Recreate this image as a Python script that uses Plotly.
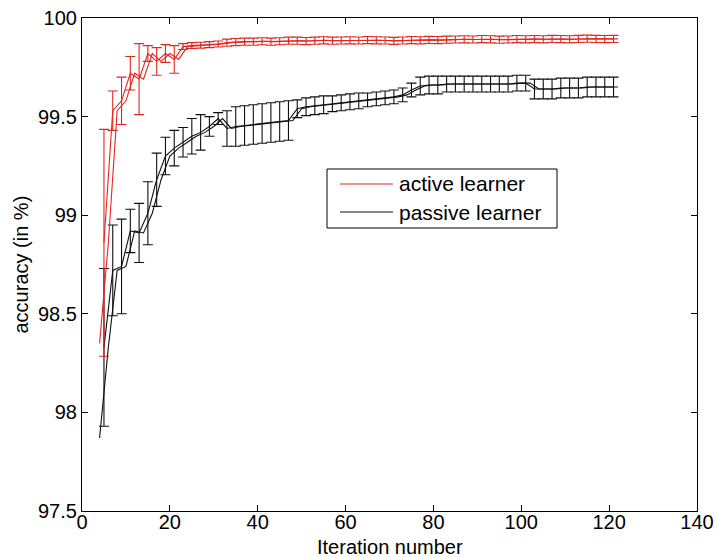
import plotly.graph_objects as go

# Iterations at which error bars are drawn
iterations = list(range(5, 122, 2))
# Second (offset) trace iterations
iterations_alt = list(range(4, 123, 2))

active_mean = [98.86, 99.53, 99.58, 99.72, 99.69, 99.82, 99.78, 99.82, 99.79,
               99.855, 99.86, 99.862, 99.865, 99.868, 99.875, 99.878, 99.88, 99.88,
               99.882, 99.88, 99.882, 99.885, 99.885, 99.883, 99.885, 99.887, 99.885,
               99.886, 99.887, 99.886, 99.888, 99.887, 99.886, 99.884, 99.886, 99.888,
               99.887, 99.889, 99.888, 99.89, 99.891, 99.892, 99.891, 99.893, 99.892,
               99.89, 99.891, 99.893, 99.892, 99.893, 99.892, 99.894, 99.893, 99.892,
               99.894, 99.895, 99.894, 99.893, 99.894]
active_err = [0.575, 0.10, 0.12, 0.085, 0.18, 0.04, 0.07, 0.045, 0.07,
              0.015, 0.015, 0.015, 0.015, 0.015, 0.018, 0.018, 0.018, 0.018,
              0.018, 0.018, 0.018, 0.018, 0.018, 0.018, 0.018, 0.018, 0.018,
              0.018, 0.018, 0.018, 0.018, 0.018, 0.018, 0.018, 0.018, 0.018,
              0.018, 0.018, 0.018, 0.018, 0.018, 0.018, 0.018, 0.018, 0.018,
              0.018, 0.018, 0.018, 0.018, 0.018, 0.018, 0.018, 0.018, 0.018,
              0.018, 0.018, 0.018, 0.018, 0.018]
active_start = 98.35

passive_mean = [98.33, 98.72, 98.74, 98.92, 98.91, 99.01, 99.18, 99.30, 99.34,
                99.37, 99.40, 99.42, 99.45, 99.49, 99.44, 99.45, 99.455, 99.46,
                99.465, 99.47, 99.475, 99.48, 99.54, 99.55, 99.555, 99.56, 99.565,
                99.57, 99.575, 99.58, 99.585, 99.59, 99.595, 99.60, 99.61, 99.635,
                99.655, 99.66, 99.66, 99.665, 99.665, 99.665, 99.665, 99.665, 99.665,
                99.665, 99.665, 99.67, 99.67, 99.64, 99.64, 99.64, 99.645, 99.645,
                99.645, 99.65, 99.65, 99.65, 99.65]
passive_err = [0.40, 0.23, 0.24, 0.11, 0.15, 0.16, 0.135, 0.095, 0.09,
               0.075, 0.09, 0.09, 0.05, 0.03, 0.09, 0.10, 0.10, 0.10,
               0.10, 0.10, 0.10, 0.10, 0.045, 0.045, 0.045, 0.045, 0.04,
               0.04, 0.04, 0.04, 0.035, 0.035, 0.035, 0.035, 0.035, 0.035,
               0.045, 0.045, 0.045, 0.04, 0.04, 0.04, 0.04, 0.04, 0.04,
               0.04, 0.04, 0.04, 0.04, 0.05, 0.05, 0.05, 0.05, 0.05,
               0.05, 0.05, 0.05, 0.05, 0.05]
passive_start = 97.87

series_names = ["active learner", "passive learner"]
x_title = "Iteration number"
y_title = "accuracy (in %)"

active_alt = [active_start] + active_mean
passive_alt = [passive_start] + passive_mean

RED = "rgb(228,38,32)"
BLACK = "rgb(15,15,15)"
FONT = "Liberation Sans, Arial, sans-serif"
FS = 20

fig = go.Figure()

fig.add_trace(go.Scatter(x=iterations_alt, y=passive_alt, mode="lines",
                         line=dict(color=BLACK, width=1.1), showlegend=False,
                         hoverinfo="skip"))
fig.add_trace(go.Scatter(x=iterations, y=passive_mean, mode="lines",
                         name=series_names[1], showlegend=False,
                         line=dict(color=BLACK, width=1.1),
                         error_y=dict(type="data", array=passive_err, visible=True,
                                      color=BLACK, thickness=1.1, width=5)))
fig.add_trace(go.Scatter(x=iterations_alt, y=active_alt, mode="lines",
                         line=dict(color=RED, width=1.1), showlegend=False,
                         hoverinfo="skip"))
fig.add_trace(go.Scatter(x=iterations, y=active_mean, mode="lines",
                         name=series_names[0], showlegend=False,
                         line=dict(color=RED, width=1.1),
                         error_y=dict(type="data", array=active_err, visible=True,
                                      color=RED, thickness=1.1, width=5)))

axis_common = dict(showline=True, linecolor="black", linewidth=1.2, mirror="ticks",
                   ticks="inside", ticklen=6, tickcolor="black", tickwidth=1,
                   showgrid=False, zeroline=False, automargin=False,
                   tickfont=dict(family=FONT, size=FS, color="black"))

fig.update_xaxes(range=[0, 140], dtick=20, tick0=0, ticklabelstandoff=-7,
                 **axis_common)
fig.update_yaxes(range=[97.5, 100], dtick=0.5, tick0=97.5, ticklabelstandoff=0,
                 **axis_common)

# Plot-area geometry used to place the legend and axis titles
L, T, R, B = 82, 18, 20, 46
W, H = 717 - L - R, 557 - T - B
def px(x):
    return (x - L) / W
def py(y):
    return 1 - (y - T) / H

shapes = [dict(type="rect", xref="paper", yref="paper",
               x0=px(327), x1=px(557), y0=py(228), y1=py(169),
               line=dict(color="black", width=1), fillcolor="white", layer="above")]
annotations = []
for name, color, yrow in [(series_names[0], RED, 184), (series_names[1], BLACK, 212)]:
    shapes.append(dict(type="line", xref="paper", yref="paper",
                       x0=px(340), x1=px(393), y0=py(yrow), y1=py(yrow),
                       line=dict(color=color, width=1.2), layer="above"))
    annotations.append(dict(xref="paper", yref="paper", x=px(397), y=py(yrow),
                            xanchor="left", yanchor="middle", showarrow=False,
                            text=name, font=dict(family=FONT, size=FS + 1, color="black")))

annotations.append(dict(xref="paper", yref="paper", x=0.5, y=py(547),
                        xanchor="center", yanchor="middle", showarrow=False,
                        text=x_title, font=dict(family=FONT, size=FS, color="black")))
annotations.append(dict(xref="paper", yref="paper", x=px(20), y=0.5,
                        xanchor="center", yanchor="middle", showarrow=False,
                        textangle=-90,
                        text=y_title, font=dict(family=FONT, size=FS, color="black")))

fig.update_layout(
    width=717, height=557,
    margin=dict(l=L, r=R, t=T, b=B),
    paper_bgcolor="white", plot_bgcolor="white",
    font=dict(family=FONT, size=FS, color="black"),
    showlegend=False,
    shapes=shapes, annotations=annotations,
)

fig.write_html("out.html")
